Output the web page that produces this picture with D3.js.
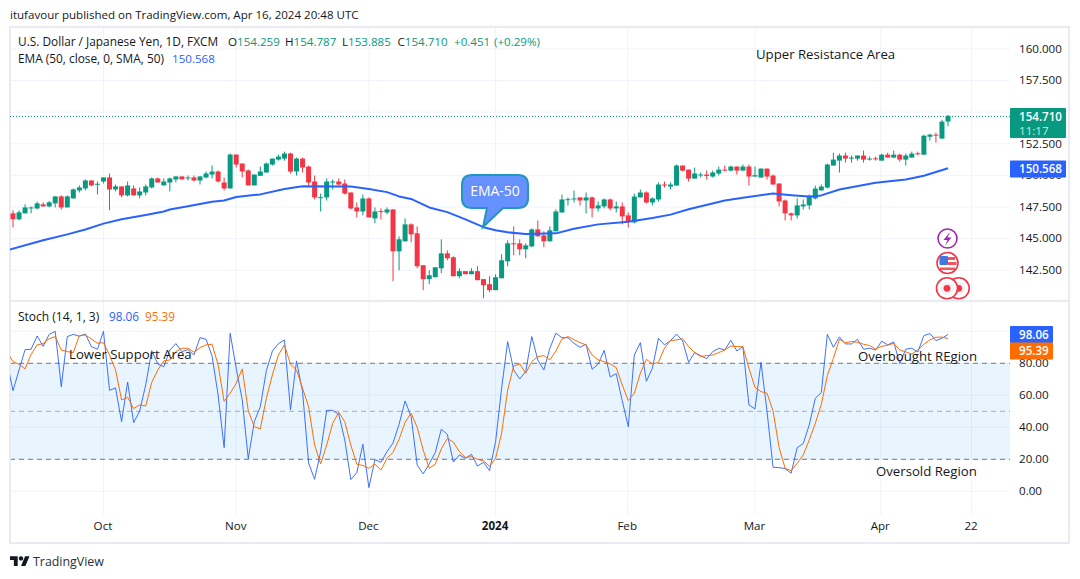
<!DOCTYPE html>
<html><head><meta charset="utf-8">
<script src="https://cdn.jsdelivr.net/npm/d3@7/dist/d3.min.js"></script>
<style>
html,body{margin:0;padding:0;background:#fff;}
svg{display:block;font-family:"Open Sans",sans-serif;}
text{fill:#131722;}
</style></head><body>
<svg id="c" width="1080" height="579"></svg>
<script>
// daily candles, oldest first
const open=[147.00,146.53,147.00,147.42,147.39,147.71,147.55,147.79,148.34,147.47,148.18,148.81,148.97,149.60,149.28,149.52,149.84,148.89,149.13,148.42,148.97,148.42,148.65,149.05,149.76,149.21,149.44,149.68,149.92,149.78,149.84,149.60,149.84,150.07,150.31,149.44,148.97,151.65,150.94,150.39,149.21,149.97,150.23,150.86,151.25,151.33,151.73,150.31,151.33,150.70,149.52,148.23,148.26,149.47,149.52,149.36,148.65,147.47,147.15,148.18,146.60,147.18,147.07,147.31,144.00,144.79,146.13,145.42,142.90,141.80,141.95,142.66,143.84,143.53,142.03,142.43,142.19,142.43,141.80,141.40,140.93,141.87,143.21,144.63,144.63,144.16,144.39,145.73,145.26,144.79,145.58,147.07,148.07,148.12,148.26,148.02,148.26,147.39,147.55,148.10,147.39,147.55,146.84,146.29,148.26,148.65,147.86,148.10,149.28,149.12,149.20,150.78,150.46,149.75,149.99,150.07,149.91,150.15,150.46,150.38,150.70,150.38,150.70,149.91,149.83,150.54,149.99,149.36,148.02,147.00,146.84,147.55,147.63,148.18,148.81,149.04,150.78,151.17,151.57,151.33,151.33,151.57,151.28,151.35,151.17,151.64,151.41,151.64,151.25,151.41,151.75,151.64,153.06,153.22,152.91,154.259];
const high=[147.24,147.24,147.71,147.55,147.94,147.87,147.97,148.34,148.42,148.42,148.97,149.21,149.68,149.60,149.52,149.84,150.15,149.28,149.13,149.52,149.21,149.05,149.28,149.84,149.84,149.76,149.84,149.92,149.92,149.99,149.99,149.92,150.31,150.78,150.39,149.84,151.73,151.65,150.94,150.47,150.07,150.70,151.02,151.33,151.65,151.88,151.80,151.41,151.41,150.78,149.99,148.57,149.76,149.68,149.76,149.68,148.65,147.86,148.49,148.26,147.47,147.39,147.47,147.31,145.18,146.60,146.21,145.97,142.90,142.50,142.74,144.95,144.08,143.61,142.66,142.43,142.66,142.82,141.80,142.03,142.19,143.77,144.87,145.97,144.95,144.63,145.81,146.44,145.58,145.97,147.31,148.49,148.26,148.81,148.26,148.65,148.33,147.94,148.18,148.18,147.94,147.86,147.07,148.57,148.89,148.73,148.26,149.44,149.52,149.44,150.86,150.78,150.46,150.62,150.23,150.38,150.38,150.70,150.78,150.78,150.70,150.86,150.86,150.70,150.54,150.54,150.07,149.36,148.10,147.07,148.18,148.10,148.49,149.20,149.28,150.93,151.80,151.72,151.80,151.57,151.57,151.96,151.49,151.49,151.72,151.80,151.96,151.72,151.72,151.88,151.88,153.22,153.30,153.38,154.40,154.787];
const low=[145.90,146.45,147.00,147.00,147.31,147.55,147.47,147.47,147.31,147.47,148.18,148.65,148.81,149.13,148.50,149.36,147.24,148.73,148.26,148.34,148.42,148.18,148.42,148.97,149.44,149.21,148.73,149.44,149.68,149.60,149.52,149.28,149.76,149.76,149.44,148.81,148.97,150.62,149.84,149.21,149.21,149.97,150.23,150.78,151.17,151.17,150.15,149.99,150.23,149.20,148.10,147.15,148.02,148.89,149.20,148.49,147.31,146.68,146.84,146.68,146.21,146.52,146.92,141.64,142.50,144.79,144.71,142.66,140.93,141.40,141.95,142.27,143.29,142.03,141.87,142.19,142.19,141.72,140.30,140.77,140.93,141.87,142.82,143.69,143.69,143.45,144.32,145.18,144.32,144.79,145.58,147.07,147.63,147.86,147.63,146.99,146.68,147.15,147.39,147.23,147.07,146.13,145.89,146.21,148.26,147.78,147.63,147.94,149.04,148.89,149.20,150.31,149.52,149.75,149.83,149.67,149.83,149.99,150.31,150.31,150.07,150.38,149.20,149.91,149.83,149.67,149.28,147.55,146.44,146.44,146.60,147.31,147.31,148.10,148.81,148.96,150.78,150.23,151.01,151.01,151.17,151.01,151.17,151.17,151.17,151.41,151.41,151.09,150.78,151.41,151.57,151.64,152.75,152.59,152.91,153.885];
const close=[146.53,147.08,147.47,147.47,147.79,147.55,147.87,148.34,147.47,148.34,148.89,149.05,149.60,149.21,149.34,149.84,148.89,149.13,148.42,149.21,148.42,148.73,149.13,149.76,149.44,149.52,149.76,149.92,149.68,149.84,149.60,149.92,150.15,150.31,149.52,148.97,151.65,150.86,150.31,149.21,150.07,150.31,150.94,151.33,151.49,151.73,150.31,151.33,150.62,149.44,148.26,148.28,149.52,149.52,149.28,148.57,147.39,147.15,148.18,146.68,147.15,147.13,147.31,144.00,144.95,146.13,145.34,142.82,141.80,142.11,142.74,143.84,143.45,142.03,142.43,142.19,142.43,141.72,141.32,140.93,141.95,143.29,144.63,144.58,144.16,144.47,145.73,145.18,144.79,145.66,147.15,148.10,148.12,148.18,148.02,148.26,147.39,147.63,148.10,147.39,147.55,146.76,146.36,148.33,148.65,147.86,148.18,149.28,149.23,149.28,150.78,150.38,149.75,150.15,150.07,149.96,150.23,150.46,150.38,150.70,150.38,150.70,149.91,150.02,150.54,149.91,149.28,147.94,147.00,146.84,147.63,147.70,148.33,148.96,149.12,150.86,151.25,151.57,151.33,151.41,151.57,151.25,151.33,151.28,151.64,151.41,151.64,151.25,151.57,151.72,151.70,153.14,153.22,153.17,154.25,154.710];
// EMA (50) read at the bars in emaBars
const emaBars=[-1,5,9,12,15,18,22,25,26,29,33,35,37,41,45,48,56,59,62,64,66,69,72,75,78,80,82,85,90,93,97,102,106,109,112,118,121,126,129,132,134,137,143,148,151,155];
const emaValues=[144.08,144.87,145.34,145.72,146.19,146.54,146.87,147.15,147.31,147.56,147.92,148.02,148.29,148.50,148.93,149.14,149.13,148.93,148.68,148.34,148.14,147.47,147.10,146.52,145.91,145.66,145.50,145.37,145.42,145.79,146.13,146.34,146.64,146.90,147.33,148.02,148.24,148.57,148.44,148.34,148.42,148.89,149.42,149.68,149.97,150.568];
// Stochastic, first value is the bar just left of the first candle
const stochK=[81.0,62.9,75.8,88.5,88.8,97.1,90.6,98.1,100,65.4,96.7,98.1,96.9,98.3,90.4,88.8,100,63.1,64.6,43.5,68.3,42.9,50.2,66.5,87.9,79.6,77.9,88.3,92.3,87.3,88.5,85.2,96.0,95.0,84.6,60.2,27.3,98.8,76.9,57.1,20.4,43.5,52.9,75.4,87.7,92.3,94.6,51.0,81.5,62.3,17.7,7.5,24.8,50.6,50.6,48.1,32.1,7.3,11.7,29.4,2.3,19.8,18.1,24.8,30.2,41.9,56.5,46.7,16.5,10.9,17.1,24.2,38.8,35.6,18.3,22.7,20.6,23.1,15.8,18.1,12.9,31.0,64.4,93.5,75.8,70.2,74.8,96.7,82.1,75.8,89.4,98.8,96.0,96.0,92.5,90.0,91.9,76.3,79.4,88.1,71.5,73.5,56.5,40.4,85.2,92.9,68.8,76.9,95.6,91.5,94.2,98.3,94.0,80.6,86.7,84.8,82.9,87.3,89.4,88.3,94.4,87.7,90.4,54.0,51.5,80.6,49.8,15.0,14.8,14.2,11.3,27.3,29.8,41.5,58.1,61.7,98.1,90.0,96.5,92.1,92.1,95.0,88.8,89.4,88.3,93.8,91.5,93.3,79.8,88.8,89.4,87.1,97.3,98.6,94.2,95.6,98.06];
const stochD=[87.3,81.0,79.4,76.5,85.6,91.5,92.3,95.4,96.7,88.3,87.3,86.7,97.3,97.7,95.2,92.5,92.9,85.2,75.8,57.1,58.8,51.7,54.0,53.3,68.1,75.8,81.5,82.1,87.3,89.4,89.4,86.9,89.8,91.5,91.9,79.0,56.1,61.3,67.5,76.5,50.4,40.4,39.0,58.1,72.7,85.2,91.5,79.4,75.8,64.4,52.9,28.9,17.1,28.9,42.5,49.4,43.5,28.9,16.9,16.1,14.4,16.9,13.3,20.6,24.4,32.5,43.1,48.8,40.0,25.8,14.4,16.9,26.5,33.0,30.8,24.8,21.1,21.7,20.0,19.0,15.6,20.6,36.3,63.3,78.3,79.6,73.8,81.0,84.2,84.8,82.1,87.7,95.2,96.7,94.8,92.9,91.5,85.2,82.1,81.0,79.6,77.3,66.5,56.7,61.3,73.8,82.5,79.6,80.6,89.4,94.2,94.6,95.4,90.4,86.7,84.2,84.8,85.2,86.7,88.3,90.8,90.4,90.4,76.9,65.0,62.3,61.3,50.2,27.3,14.4,12.9,17.5,22.7,32.1,42.5,54.4,72.3,83.1,95.0,92.9,93.6,93.1,91.9,91.1,89.0,90.6,91.3,92.5,88.3,87.1,85.8,88.3,91.9,94.6,96.3,96.4,95.39];
// axes
const priceTicks=[142.5,145,147.5,150,152.5,155,157.5,160];
const stochTicks=[0,20,40,60,80,100];
const stochLabels=[0,20,40,60,80];
const timeBars=[15,37,59,80,101.9,123,143.85,158.9];
const timeLabels=["Oct","Nov","Dec","2024","Feb","Mar","Apr","22"];
// texts
const legendValues=["O154.259","H154.787","L153.885","C154.710","+0.451","(+0.29%)"];
const notes=["Upper Resistance Area","Lower Support Area","Overbought REgion","Oversold Region"];

const GREEN="#089981",RED="#f23645",BLUE="#2962ff",ORANGE="#ff6d00",GRID="#f0f3fa",FRAME="#e9ebf2";
const svg=d3.select("#c");
const L=10,R=1010,PT=27,PB=301,SB=515;
const x=d3.scaleLinear().domain([0,155]).range([13,948]);
const y=d3.scaleLinear().domain([142.5,160]).range([270.3,48.9]);
const s=d3.scaleLinear().domain([0,100]).range([491.3,331.3]);

svg.append("defs").append("clipPath").attr("id","pane").append("rect").attr("x",L).attr("y",PT).attr("width",R-L).attr("height",SB-PT);

// grid
const g=svg.append("g");
g.selectAll(".vg").data(timeBars).join("line").attr("x1",d=>x(d)).attr("x2",d=>x(d)).attr("y1",PT).attr("y2",SB).attr("stroke",GRID);
g.selectAll(".hp").data(priceTicks).join("line").attr("x1",L).attr("x2",R).attr("y1",d=>y(d)).attr("y2",d=>y(d)).attr("stroke",GRID);
g.selectAll(".hs").data(stochTicks).join("line").attr("x1",L).attr("x2",R).attr("y1",d=>s(d)).attr("y2",d=>s(d)).attr("stroke",GRID);

// stochastic band
svg.append("rect").attr("x",L).attr("width",R-L).attr("y",s(80)).attr("height",s(20)-s(80)).attr("fill","#2196f3").attr("fill-opacity",0.1);
[[80,"#787b86"],[50,"#a8abb5"],[20,"#787b86"]].forEach(([v,c])=>{
  svg.append("line").attr("x1",L).attr("x2",R).attr("y1",s(v)).attr("y2",s(v)).attr("stroke",c).attr("stroke-dasharray","5 4");
});

// frame
svg.append("rect").attr("x",10).attr("y",27).attr("width",1059).attr("height",516).attr("fill","none").attr("stroke",FRAME).attr("stroke-width",2);
svg.append("line").attr("x1",L).attr("x2",1069).attr("y1",PB).attr("y2",PB).attr("stroke",FRAME).attr("stroke-width",2);

// axes
const pa=svg.append("g").attr("transform",`translate(${R+9},0)`).call(d3.axisRight(y).tickValues(priceTicks).tickSize(0).tickPadding(0).tickFormat(d3.format(".3f")));
const sa=svg.append("g").attr("transform",`translate(${R+9},0)`).call(d3.axisRight(s).tickValues(stochLabels).tickSize(0).tickPadding(0).tickFormat(d3.format(".2f")));
const ta=svg.append("g").attr("transform",`translate(-1,${SB+7})`).call(d3.axisBottom(x).tickValues(timeBars).tickSize(0).tickPadding(0).tickFormat((d,i)=>timeLabels[i]));
[pa,sa,ta].forEach(a=>{a.select(".domain").remove();a.attr("font-family",null).attr("font-size",null);a.selectAll("text").attr("font-size",11.6).style("fill","#131722");});
pa.selectAll("text").attr("dy","0.28em");sa.selectAll("text").attr("dy","0.28em");
ta.selectAll("text").filter(d=>d===80).attr("font-weight",700);

// candles
const plot=svg.append("g").attr("clip-path","url(#pane)");
const bars=d3.range(close.length);
const col=i=>close[i]>=open[i]?GREEN:RED;
plot.selectAll(".w").data(bars).join("line").attr("x1",i=>x(i)).attr("x2",i=>x(i)).attr("y1",i=>y(high[i])).attr("y2",i=>y(low[i])).attr("stroke",col);
plot.selectAll(".b").data(bars).join("rect").attr("x",i=>x(i)-2.5).attr("width",5)
  .attr("y",i=>y(Math.max(open[i],close[i]))).attr("height",i=>Math.max(1,Math.abs(y(open[i])-y(close[i])))).attr("fill",col);

// EMA
plot.append("path").attr("fill","none").attr("stroke",BLUE).attr("stroke-width",2).attr("stroke-linejoin","round")
  .attr("d",d3.line().x(d=>x(d[0])).y(d=>y(d[1]))(emaBars.map((b,i)=>[b,emaValues[i]])));

// last price line
const lastY=Math.round(y(close[155]))+0.5;
svg.append("line").attr("x1",L).attr("x2",R).attr("y1",lastY).attr("y2",lastY).attr("stroke",GREEN).attr("stroke-dasharray","1 2");

// stochastic lines
const sl=d3.line().x((d,i)=>x(i-1)).y(d=>s(d));
plot.append("path").attr("fill","none").attr("stroke",BLUE).attr("stroke-width",1).attr("stroke-opacity",.9).attr("d",sl(stochK));
plot.append("path").attr("fill","none").attr("stroke",ORANGE).attr("stroke-width",1).attr("d",sl(stochD));

// callout
const co=svg.append("g");
co.append("path").attr("d","M472 175H518Q528 175 528 185V198Q528 208 518 208H503L483 227L487 208H472Q462 208 462 198V185Q462 175 472 175Z")
  .attr("fill","#6690fb").attr("stroke","#2196c4").attr("stroke-width",2);
co.append("text").attr("x",495).attr("y",196).attr("text-anchor","middle").attr("font-size",14).style("fill","#fff").text("EMA-50");

// event icons
const ic=svg.append("g");
ic.append("circle").attr("cx",947.5).attr("cy",238.5).attr("r",9.5).attr("fill","#fff").attr("stroke","#9c27b0").attr("stroke-width",1.6);
ic.append("path").attr("d","M950 232L943.5 240H947.5L945 245.5L951.5 237.5H947.5Z").attr("fill","#9c27b0");
ic.append("circle").attr("cx",947.5).attr("cy",263).attr("r",10.5).attr("fill","#fff").attr("stroke",RED).attr("stroke-width",1.6);
ic.append("path").attr("d","M948 257H955V260H948ZM948 262H956.5V265H948ZM940 267.5H955V270H940Z").attr("fill",RED).attr("fill-opacity",.85);
ic.append("rect").attr("x",939.5).attr("y",256).attr("width",8.5).attr("height",9).attr("rx",1).attr("fill","#3f78e0");
[958.7,947].forEach(cx=>{
  ic.append("circle").attr("cx",cx).attr("cy",288.3).attr("r",10.5).attr("fill","#fff").attr("stroke",RED).attr("stroke-width",1.6);
  ic.append("circle").attr("cx",cx).attr("cy",288.3).attr("r",6.5).attr("fill","#f0f0f6");
  ic.append("circle").attr("cx",cx).attr("cy",288.3).attr("r",3.4).attr("fill",RED);
});

// price and value tags
function tag(yc,h,w,fill,txt){
  svg.append("rect").attr("x",R).attr("y",yc-h/2).attr("width",w).attr("height",h).attr("rx",1).attr("fill",fill);
  svg.append("text").attr("x",R+9).attr("y",yc+4.2).attr("font-size",11.6).attr("font-weight",600).style("fill","#fff").text(txt);
}
svg.append("rect").attr("x",R).attr("y",108).attr("width",56).attr("height",30).attr("rx",1).attr("fill",GREEN);
svg.append("text").attr("x",R+9).attr("y",120.5).attr("font-size",11.6).attr("font-weight",600).style("fill","#fff").text(d3.format(".3f")(close[155]));
svg.append("text").attr("x",R+9).attr("y",134.5).attr("font-size",11.6).style("fill","#c5e6df").text("11:17");
tag(y(emaValues[emaValues.length-1])+0.8,17,56,BLUE,d3.format(".3f")(emaValues[emaValues.length-1]));
tag(334.5,17,43,BLUE,d3.format(".2f")(stochK[stochK.length-1]));
tag(351,17,43,ORANGE,d3.format(".2f")(stochD[stochD.length-1]));

// header
svg.append("text").attr("x",10).attr("y",19).attr("font-size",11.55).text("itufavour published on TradingView.com, Apr 16, 2024 20:48 UTC");
svg.append("text").attr("x",18).attr("y",46).attr("font-size",11.85).text("U.S. Dollar / Japanese Yen, 1D, FXCM");
[228,285,342,397.5,454,494].forEach((px,i)=>{
  const v=legendValues[i];
  const t=svg.append("text").attr("x",px).attr("y",46).attr("font-size",11.6);
  if(i<4){t.append("tspan").text(v[0]);t.append("tspan").style("fill",GREEN).text(v.slice(1));}
  else t.style("fill",GREEN).text(v);
});
svg.append("text").attr("x",18).attr("y",63).attr("font-size",11.85).text("EMA (50, close, 0, SMA, 50)");
svg.append("text").attr("x",172).attr("y",63).attr("font-size",11.6).style("fill",BLUE).text(d3.format(".3f")(emaValues[emaValues.length-1]));
svg.append("text").attr("x",18).attr("y",321).attr("font-size",12).text("Stoch (14, 1, 3)");
svg.append("text").attr("x",109).attr("y",321).attr("font-size",11.8).style("fill",BLUE).text(d3.format(".2f")(stochK[stochK.length-1]));
svg.append("text").attr("x",145).attr("y",321).attr("font-size",11.8).style("fill",ORANGE).text(d3.format(".2f")(stochD[stochD.length-1]));

// drawn annotations
[[756,59],[69,359],[858,361],[876,476]].forEach((p,i)=>{
  svg.append("text").attr("x",p[0]).attr("y",p[1]).attr("font-size",13.2).text(notes[i]);
});

// footer
const logo=svg.append("g").attr("transform","translate(10,554) scale(0.55)").attr("fill","#131722");
logo.append("path").attr("d","M14 22H7V11H0V4h14v18zM28 22h-8l7.5-18h8L28 22z");
logo.append("circle").attr("cx",20).attr("cy",8).attr("r",4);
svg.append("text").attr("x",33).attr("y",566).attr("font-size",12.4).style("fill","#2a2e39").text("TradingView");
</script>
</body></html>
